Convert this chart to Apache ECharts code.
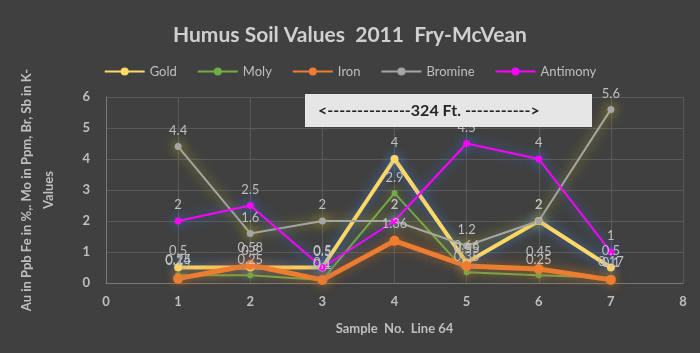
<!DOCTYPE html>
<html><head><meta charset="utf-8">
<script src="https://cdn.jsdelivr.net/npm/echarts@6/dist/echarts.min.js"></script>
<style>html,body{margin:0;padding:0;background:#404040;}#c{width:700px;height:353px;}</style>
</head><body><div id="c"></div>
<script>
const samples = [1, 2, 3, 4, 5, 6, 7];
const gold = [0.5, 0.5, 0.5, 4, 0.66, 2, 0.5];
const moly = [0.25, 0.25, 0.1, 2.9, 0.35, 0.25, 0.17];
const iron = [0.14, 0.58, 0.1, 1.36, 0.55, 0.45, 0.1];
const bromine = [4.4, 1.6, 2, 2, 1.2, 2, 5.6];
const antimony = [2, 2.5, 0.5, 2, 4.5, 4, 1];
const xTicks = [0, 1, 2, 3, 4, 5, 6, 7, 8];
const yTicks = [0, 1, 2, 3, 4, 5, 6];

const lbl = '#bfbfbf';
const font = 'Lato, "Open Sans", sans-serif';
function mk(name, vals, color, width, sym, glow) {
  return {
    name, type: 'line', data: samples.map((s, i) => [s, vals[i]]),
    symbol: 'circle', symbolSize: sym,
    lineStyle: { color, width, shadowBlur: 12, shadowColor: glow },
    itemStyle: { color, shadowBlur: 12, shadowColor: glow },
    label: { show: true, position: 'top', color: lbl, fontSize: 13, fontFamily: font, distance: 6 },
    emphasis: { disabled: true }
  };
}
const chart = echarts.init(document.getElementById('c'));
chart.setOption({
  backgroundColor: '#404040',
  animation: false,
  textStyle: { fontFamily: font },
  title: { text: 'Humus Soil Values  2011  Fry-McVean', left: 'center', top: 20,
    textStyle: { color: '#d0d0d0', fontSize: 21, fontWeight: 'bold', fontFamily: font } },
  legend: { top: 60, left: 'center', itemWidth: 40, itemHeight: 10, itemGap: 20,
    textStyle: { color: '#bfbfbf', fontSize: 13, fontFamily: font },
    data: ['Gold', 'Moly', 'Iron', 'Bromine', 'Antimony'] },
  grid: { left: 106, right: 17, top: 97, bottom: 70 },
  xAxis: { type: 'value', min: 0, max: 8, interval: 1,
    name: 'Sample  No.  Line 64', nameLocation: 'middle', nameGap: 39,
    nameTextStyle: { color: '#bfbfbf', fontSize: 13, fontWeight: 'bold', fontFamily: font },
    axisLine: { lineStyle: { color: '#7a7a7a' } }, axisTick: { show: false },
    axisLabel: { color: '#bfbfbf', fontSize: 13, fontWeight: 'bold', margin: 12, fontFamily: font, formatter: v => xTicks.includes(v) ? String(v) : '' },
    splitLine: { show: true, lineStyle: { color: '#5a5a5a' } } },
  yAxis: { type: 'value', min: 0, max: 6, interval: 1,
    name: 'Au in Ppb Fe in %,. Mo in Ppm, Br, Sb in K-\nValues', nameLocation: 'middle', nameGap: 46, nameRotate: 90,
    nameTextStyle: { color: '#bfbfbf', fontSize: 13, fontWeight: 'bold', fontFamily: font, lineHeight: 22 },
    axisLine: { show: true, lineStyle: { color: '#7a7a7a' } }, axisTick: { show: false },
    axisLabel: { color: '#bfbfbf', fontSize: 13, fontWeight: 'bold', margin: 16, fontFamily: font, formatter: v => yTicks.includes(v) ? String(v) : '' },
    splitLine: { show: true, lineStyle: { color: '#5a5a5a' } } },
  graphic: [{ type: 'group', left: 305, top: 94, z: 100, children: [
    { type: 'rect', z: 100, shape: { x: 0, y: 0, width: 287, height: 33 }, style: { fill: '#e6e6e6' } },
    { type: 'text', z: 101, x: 13, y: 17, style: { text: '<--------------324 Ft. ----------->', fill: '#262626', font: 'bold 16px ' + font, align: 'left', verticalAlign: 'middle' } }
  ] }],
  series: [
    mk('Gold', gold, '#ffd966', 4, 8, 'rgba(70,130,220,0.8)'),
    mk('Moly', moly, '#70ad47', 2, 6, 'rgba(200,190,60,0.6)'),
    mk('Iron', iron, '#ed7d31', 5, 10, 'rgba(200,110,40,0.7)'),
    mk('Bromine', bromine, '#a5a5a5', 2, 7, 'rgba(200,190,40,0.9)'),
    mk('Antimony', antimony, '#ff00ff', 2, 7, 'rgba(60,120,230,0.9)')
  ]
});
</script></body></html>
